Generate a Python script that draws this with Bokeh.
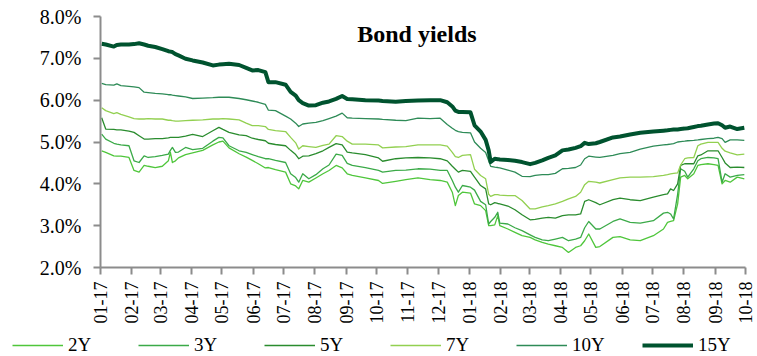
import pandas as pd
from bokeh.plotting import figure
from bokeh.models import (Range1d, FixedTicker, DatetimeTickFormatter, PrintfTickFormatter,
                          Legend, LegendItem, Label, ColumnDataSource)
from bokeh.embed import file_html
from bokeh.resources import INLINE

# ---------------- data ----------------
dates = ["2017-01-02","2017-01-06","2017-01-14","2017-01-17","2017-01-21","2017-01-29","2017-02-03","2017-02-08","2017-02-13","2017-02-17",
         "2017-02-24","2017-03-03","2017-03-09","2017-03-11","2017-03-13","2017-03-16","2017-03-19","2017-03-26","2017-04-02","2017-04-12",
         "2017-04-22","2017-04-28","2017-05-02","2017-05-08","2017-05-18","2017-05-25","2017-05-31","2017-06-06","2017-06-13","2017-06-16",
         "2017-06-23","2017-07-03","2017-07-08","2017-07-13","2017-07-16","2017-07-20","2017-07-26","2017-08-02","2017-08-09","2017-08-15",
         "2017-08-22","2017-08-28","2017-09-02","2017-09-07","2017-09-20","2017-10-03","2017-10-07","2017-10-20","2017-10-30","2017-11-11",
         "2017-11-23","2017-12-03","2017-12-10","2017-12-15","2017-12-18","2017-12-21","2017-12-25","2018-01-02","2018-01-06","2018-01-12",
         "2018-01-17","2018-01-20","2018-01-22","2018-01-26","2018-01-29","2018-01-31","2018-02-08","2018-02-15","2018-02-22","2018-03-02",
         "2018-03-07","2018-03-14","2018-03-20","2018-03-27","2018-04-03","2018-04-09","2018-04-16","2018-04-21","2018-04-25","2018-04-29",
         "2018-05-06","2018-05-10","2018-05-23","2018-05-30","2018-06-09","2018-06-19","2018-07-02","2018-07-12","2018-07-16","2018-07-19",
         "2018-07-22","2018-07-26","2018-07-29","2018-08-02","2018-08-05","2018-08-11","2018-08-15","2018-08-18","2018-08-25","2018-08-31",
         "2018-09-04","2018-09-08","2018-09-11","2018-09-16","2018-09-23","2018-09-30"]

y2 = [4.79, 4.75, 4.67, 4.66, 4.66, 4.63, 4.32, 4.28, 4.44, 4.42,
      4.39, 4.42, 4.55, 4.75, 4.51, 4.55, 4.62, 4.70, 4.74, 4.80,
      4.93, 5.00, 5.02, 4.86, 4.72, 4.64, 4.56, 4.48, 4.38, 4.39,
      4.34, 4.28, 4.00, 3.95, 3.88, 4.08, 4.04, 4.14, 4.24, 4.32,
      4.44, 4.38, 4.24, 4.20, 4.14, 4.08, 4.01, 4.06, 4.10, 4.14,
      4.10, 4.08, 4.04, 3.80, 3.48, 3.72, 3.80, 3.78, 3.52, 3.48,
      3.36, 3.00, 3.00, 3.02, 3.24, 3.00, 2.92, 2.84, 2.76, 2.72,
      2.66, 2.60, 2.56, 2.52, 2.48, 2.36, 2.48, 2.52, 2.64, 2.80,
      2.48, 2.50, 2.72, 2.74, 2.66, 2.64, 2.76, 2.92, 3.08, 3.10,
      3.12, 3.52, 4.16, 4.20, 4.12, 4.24, 4.44, 4.46, 4.48, 4.46,
      4.44, 4.00, 4.08, 4.04, 4.16, 4.12]

y3 = [5.19, 5.07, 4.97, 4.95, 4.93, 4.91, 4.55, 4.51, 4.67, 4.63,
      4.65, 4.68, 4.71, 4.80, 4.87, 4.75, 4.76, 4.87, 4.82, 4.85,
      5.02, 5.11, 5.10, 4.91, 4.79, 4.75, 4.70, 4.65, 4.60, 4.60,
      4.56, 4.51, 4.24, 4.15, 4.04, 4.24, 4.12, 4.22, 4.36, 4.45,
      4.71, 4.68, 4.49, 4.44, 4.39, 4.32, 4.28, 4.32, 4.33, 4.36,
      4.35, 4.32, 4.32, 4.08, 3.92, 3.80, 3.96, 3.92, 3.85, 3.58,
      3.50, 3.04, 3.10, 3.20, 3.32, 3.06, 3.04, 2.95, 2.88, 2.78,
      2.72, 2.66, 2.64, 2.68, 2.72, 2.64, 2.68, 2.72, 2.95, 3.10,
      2.92, 2.92, 3.10, 3.16, 3.08, 3.06, 3.12, 3.30, 3.32, 3.28,
      3.16, 3.75, 4.36, 4.30, 4.16, 4.36, 4.55, 4.60, 4.63, 4.62,
      4.60, 4.04, 4.24, 4.16, 4.20, 4.22]

y5 = [5.58, 5.31, 5.30, 5.29, 5.29, 5.26, 5.23, 5.15, 5.07, 5.07,
      5.08, 5.08, 5.10, 5.11, 5.11, 5.11, 5.11, 5.14, 5.18, 5.13,
      5.27, 5.35, 5.30, 5.23, 5.17, 5.15, 5.09, 5.06, 5.03, 4.97,
      4.94, 4.91, 4.80, 4.70, 4.60, 4.66, 4.67, 4.72, 4.79, 4.87,
      4.96, 4.93, 4.76, 4.74, 4.70, 4.62, 4.54, 4.60, 4.62, 4.63,
      4.62, 4.60, 4.55, 4.42, 4.35, 4.28, 4.32, 4.30, 4.16, 3.96,
      3.88, 3.52, 3.50, 3.55, 3.53, 3.52, 3.47, 3.38, 3.26, 3.14,
      3.15, 3.18, 3.20, 3.18, 3.24, 3.26, 3.26, 3.28, 3.58, 3.62,
      3.55, 3.50, 3.62, 3.66, 3.62, 3.60, 3.68, 3.74, 3.76, 3.88,
      3.84, 4.00, 4.44, 4.48, 4.48, 4.48, 4.67, 4.69, 4.79, 4.79,
      4.79, 4.63, 4.50, 4.39, 4.40, 4.39]

y7 = [5.82, 5.75, 5.68, 5.70, 5.66, 5.60, 5.56, 5.55, 5.55, 5.56,
      5.55, 5.55, 5.52, 5.52, 5.51, 5.50, 5.50, 5.51, 5.52, 5.53,
      5.55, 5.55, 5.56, 5.55, 5.53, 5.45, 5.39, 5.39, 5.37, 5.30,
      5.27, 5.25, 5.11, 4.98, 4.83, 4.91, 4.89, 4.87, 4.92, 4.95,
      5.15, 5.13, 5.02, 4.95, 4.95, 4.93, 4.86, 4.88, 4.89, 4.93,
      4.93, 4.93, 4.90, 4.75, 4.65, 4.63, 4.68, 4.70, 4.35, 4.20,
      4.12, 3.75, 3.70, 3.74, 3.74, 3.73, 3.72, 3.72, 3.60, 3.40,
      3.40, 3.45, 3.48, 3.52, 3.58, 3.64, 3.70, 3.80, 3.98, 4.06,
      4.04, 4.02, 4.10, 4.14, 4.16, 4.16, 4.17, 4.20, 4.22, 4.24,
      4.25, 4.26, 4.45, 4.60, 4.62, 4.63, 4.91, 4.95, 4.99, 4.99,
      4.99, 4.85, 4.78, 4.74, 4.69, 4.71]

y10 = [6.40, 6.37, 6.36, 6.39, 6.35, 6.33, 6.32, 6.30, 6.19, 6.18,
       6.16, 6.15, 6.13, 6.13, 6.12, 6.11, 6.10, 6.08, 6.04, 6.05,
       6.06, 6.07, 6.07, 6.07, 6.04, 6.01, 5.98, 5.95, 5.90, 5.76,
       5.75, 5.62, 5.55, 5.45, 5.37, 5.43, 5.45, 5.47, 5.51, 5.56,
       5.62, 5.69, 5.58, 5.57, 5.56, 5.55, 5.54, 5.52, 5.51, 5.57,
       5.56, 5.57, 5.42, 5.33, 5.28, 5.25, 5.23, 5.22, 5.00, 4.85,
       4.75, 4.55, 4.42, 4.40, 4.39, 4.38, 4.33, 4.28, 4.18, 4.17,
       4.20, 4.22, 4.22, 4.25, 4.36, 4.37, 4.39, 4.45, 4.60, 4.66,
       4.64, 4.63, 4.68, 4.72, 4.75, 4.83, 4.90, 4.93, 4.94, 4.95,
       4.96, 5.00, 5.01, 5.02, 5.03, 5.04, 5.05, 5.06, 5.08, 5.09,
       5.11, 5.08, 4.99, 5.05, 5.05, 5.04]

y15 = [7.35, 7.33, 7.28, 7.32, 7.33, 7.33, 7.34, 7.36, 7.33, 7.30,
       7.27, 7.22, 7.17, 7.16, 7.15, 7.10, 7.07, 6.99, 6.95, 6.90,
       6.83, 6.85, 6.86, 6.87, 6.84, 6.77, 6.71, 6.72, 6.67, 6.43,
       6.43, 6.37, 6.20, 6.11, 6.00, 5.93, 5.87, 5.88, 5.94, 5.97,
       6.03, 6.10, 6.03, 6.02, 6.00, 5.99, 5.98, 5.96, 5.98, 5.99,
       6.00, 6.00, 5.95, 5.85, 5.75, 5.72, 5.72, 5.71, 5.40, 5.25,
       5.05, 4.80, 4.52, 4.60, 4.59, 4.58, 4.57, 4.55, 4.52, 4.47,
       4.50, 4.56, 4.62, 4.68, 4.80, 4.82, 4.86, 4.90, 4.98, 4.95,
       4.97, 5.00, 5.11, 5.13, 5.18, 5.22, 5.25, 5.27, 5.28, 5.29,
       5.30, 5.30, 5.31, 5.32, 5.33, 5.36, 5.38, 5.39, 5.42, 5.44,
       5.45, 5.40, 5.34, 5.37, 5.31, 5.34]

series_names = ["2Y", "3Y", "5Y", "7Y", "10Y", "15Y"]
y_ticks = [2, 3, 4, 5, 6, 7, 8]
title_text = "Bond yields"

# ---------------- styling ----------------
colors = {"2Y": "#4FC63B", "3Y": "#3BAA48", "5Y": "#2A8C2E", "7Y": "#92D050",
          "10Y": "#2E8B57", "15Y": "#00532F"}
widths = {"2Y": 1.3, "3Y": 1.3, "5Y": 1.3, "7Y": 1.3, "10Y": 1.3, "15Y": 4}
FONT = "Liberation Serif"

x = pd.to_datetime(dates)
src = ColumnDataSource(dict(x=x, y2=y2, y3=y3, y5=y5, y7=y7, y10=y10, y15=y15))
cols = {"2Y": "y2", "3Y": "y3", "5Y": "y5", "7Y": "y7", "10Y": "y10", "15Y": "y15"}

x_start = pd.Timestamp("2016-12-31 20:00")
x_end = pd.Timestamp("2018-10-01 04:00")

# ---------------- main chart ----------------
p = figure(width=757, height=326, x_axis_type="datetime",
           x_range=Range1d(x_start, x_end), y_range=Range1d(2.0, 8.0),
           output_backend="svg", toolbar_location=None,
           min_border_left=100, min_border_right=12, min_border_top=16, min_border_bottom=59)
p.outline_line_color = None
p.xgrid.grid_line_color = None
p.ygrid.grid_line_color = None
p.background_fill_color = "white"
p.border_fill_color = "white"

for name in series_names:
    p.line("x", cols[name], source=src, line_color=colors[name],
           line_width=widths[name], line_join="round")

month_starts = pd.date_range("2017-01-01", "2018-10-01", freq="MS")
p.xaxis.ticker = FixedTicker(ticks=[(t - pd.Timestamp("1970-01-01")).total_seconds() * 1000 for t in month_starts])
fmt = "%m-%y"
p.xaxis.formatter = DatetimeTickFormatter(days=fmt, months=fmt, years=fmt, hours=fmt, hourmin=fmt)
p.xaxis.major_label_orientation = 3.14159265 / 2
p.yaxis.ticker = FixedTicker(ticks=y_ticks)
p.yaxis.formatter = PrintfTickFormatter(format="%.1f%%")

for ax in (p.xaxis[0], p.yaxis[0]):
    ax.axis_line_color = "#8C8C8C"
    ax.axis_line_width = 2
    ax.major_tick_line_color = "#8C8C8C"
    ax.major_tick_line_width = 2
    ax.major_tick_out = 7
    ax.major_tick_in = 0
    ax.minor_tick_line_color = None
    ax.major_label_text_font = FONT
    ax.major_label_text_color = "black"
p.yaxis.major_label_text_font_size = "20px"
p.yaxis.major_label_standoff = 12
p.xaxis.major_label_text_font_size = "18px"
p.xaxis.major_label_standoff = 7

p.add_layout(Label(x=pd.Timestamp("2017-11-10"), y=7.593, text=title_text, text_font=FONT,
                   text_font_size="24px", text_font_style="bold", text_align="center",
                   text_baseline="alphabetic", text_color="black"))

# ---------------- legend strip (separate root below) ----------------
leg = figure(width=757, height=30, x_range=Range1d(0, 1), y_range=Range1d(0, 1),
             output_backend="svg", toolbar_location=None,
             x_axis_type=None, y_axis_type=None,
             min_border_left=0, min_border_right=0, min_border_top=0, min_border_bottom=0)
leg.outline_line_color = None
leg.xgrid.grid_line_color = None
leg.ygrid.grid_line_color = None
leg.background_fill_color = "white"
leg.border_fill_color = "white"

# proxies share the real data, which lies outside this strip's ranges
proxies = {}
for name in series_names:
    proxies[name] = leg.line("x", cols[name], source=src, line_color=colors[name],
                             line_width=widths[name])

legend = Legend(items=[LegendItem(label=n, renderers=[proxies[n]]) for n in series_names],
                orientation="horizontal", location=(12, 0),
                glyph_width=51, glyph_height=20, label_width=70, label_height=20,
                label_standoff=5, spacing=0, padding=0, margin=0,
                label_text_font=FONT, label_text_font_size="19px", label_text_color="black",
                label_text_baseline="middle",
                background_fill_alpha=0, border_line_alpha=0)
leg.add_layout(legend)

open("out.html", "w").write(file_html([p, leg], INLINE))
